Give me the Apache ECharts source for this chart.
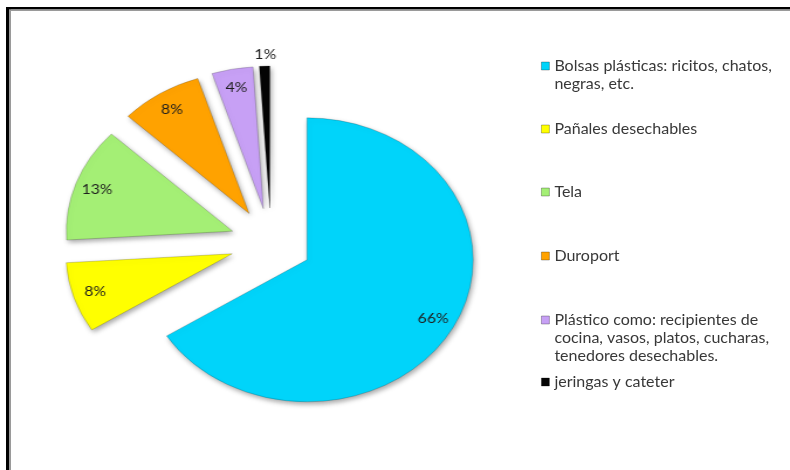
<!DOCTYPE html>
<html>
<head>
<meta charset="utf-8">
<script src="https://cdn.jsdelivr.net/npm/echarts@6/dist/echarts.min.js"></script>
<style>
  html, body { margin: 0; padding: 0; background: #ffffff; }
  #stage { position: relative; width: 790px; height: 470px; overflow: hidden; }
  #legendLayer { position: absolute; left: 0; top: 0; width: 790px; height: 470px; }
  /* the pie is drawn in its own layer, widened horizontally so it reads as an ellipse */
  #pieLayer { position: absolute; left: 0; top: 0; width: 675px; height: 470px;
              transform: scaleX(1.1704); transform-origin: 0 0; }
</style>
</head>
<body>
<div id="stage">
  <div id="legendLayer"></div>
  <div id="pieLayer"></div>
</div>
<script>
// Categories of waste and their share (%)
const categories = [
  'Bolsas plásticas: ricitos, chatos,\nnegras, etc.',
  'Pañales desechables',
  'Tela',
  'Duroport',
  'Plástico como: recipientes de\ncocina, vasos, platos, cucharas,\ntenedores desechables.',
  'jeringas y cateter'
];
const values = [66, 8, 13, 8, 4, 1];
const colors = ['#00D4FA', '#FFFF00', '#A4EF75', '#FFA200', '#C7A0F5', '#050505'];

// layout
const PIE_CENTER = [231.6, 243];
const PIE_RADIUS = 142;
const EXPLODE = 35;
const FONT = 'Lato, "Noto Sans", sans-serif';

const sliceData = values.map((v, i) => ({
  name: categories[i],
  value: v,
  selected: true,
  itemStyle: { color: colors[i] }
}));

const pieChart = echarts.init(document.getElementById('pieLayer'));
pieChart.setOption({
  animation: false,
  series: [
    {
      type: 'pie',
      center: PIE_CENTER,
      radius: PIE_RADIUS,
      startAngle: 90,
      clockwise: true,
      selectedMode: 'multiple',
      selectedOffset: EXPLODE,
      avoidLabelOverlap: false,
      silent: true,
      label: { show: false },
      labelLine: { show: false },
      itemStyle: {
        borderWidth: 1,
        borderColor: 'rgba(0,0,0,0.18)',
        shadowBlur: 5,
        shadowOffsetX: 1.5,
        shadowOffsetY: 2.5,
        shadowColor: 'rgba(0,0,0,0.35)'
      },
      select: { itemStyle: { borderWidth: 1, borderColor: 'rgba(0,0,0,0.18)' } },
      data: sliceData
    },
    {
      // percentage labels, placed near the outer rim of each slice
      type: 'pie',
      center: PIE_CENTER,
      radius: [98, PIE_RADIUS],
      startAngle: 90,
      clockwise: true,
      selectedMode: 'multiple',
      selectedOffset: EXPLODE,
      avoidLabelOverlap: false,
      silent: true,
      z: 5,
      itemStyle: { color: 'rgba(0,0,0,0)', borderWidth: 0 },
      select: { itemStyle: { color: 'rgba(0,0,0,0)', borderWidth: 0 } },
      label: {
        show: true,
        position: 'inside',
        formatter: '{c}%',
        fontFamily: FONT,
        fontSize: 13.5,
        color: '#1e1e1e'
      },
      labelLine: { show: false },
      labelLayout: function (p) {
        return p.dataIndex === 5 ? { dy: -30 } : {};
      },
      data: values.map((v, i) => ({ name: categories[i], value: v, selected: true }))
    }
  ]
});

// legend entries: first-line centre of each entry
const legendCenters = [66, 129, 192, 256, 320, 382];
const LINE_H = 18;

const legendChart = echarts.init(document.getElementById('legendLayer'));
legendChart.setOption({
  animation: false,
  legend: categories.map((name, i) => {
    const lines = name.split('\n').length;
    // blank lines above keep the swatch level with the first line of text
    const blockLines = 2 * lines - 1;
    return {
      data: [name],
      orient: 'vertical',
      left: 541,
      top: legendCenters[i] - blockLines * LINE_H / 2,
      padding: 0,
      selectedMode: false,
      icon: 'rect',
      itemWidth: 8,
      itemHeight: 8,
      itemStyle: { borderWidth: 0.8, borderColor: 'rgba(0,0,0,0.35)' },
      formatter: n => '\n'.repeat(lines - 1) + n,
      textStyle: {
        fontFamily: FONT,
        fontSize: 16,
        lineHeight: LINE_H,
        color: '#383838'
      }
    };
  }),
  graphic: [
    // chart frame (left and top edges)
    { type: 'rect', shape: { x: 6, y: 7, width: 3, height: 470 }, style: { fill: '#000' }, silent: true },
    { type: 'rect', shape: { x: 9, y: 9, width: 2, height: 470 }, style: { fill: '#9a9a9a' }, silent: true },
    { type: 'rect', shape: { x: 6, y: 7, width: 790, height: 2.5 }, style: { fill: '#000' }, silent: true },
    { type: 'rect', shape: { x: 9, y: 9.5, width: 790, height: 1.5 }, style: { fill: '#9a9a9a' }, silent: true }
  ],
  series: [
    {
      // supplies the legend swatches; the visible pie lives in its own layer
      type: 'pie',
      center: [-50, -50],
      radius: 0,
      silent: true,
      label: { show: false },
      labelLine: { show: false },
      data: values.map((v, i) => ({ name: categories[i], value: v, itemStyle: { color: colors[i] } }))
    }
  ]
});
</script>
</body>
</html>
